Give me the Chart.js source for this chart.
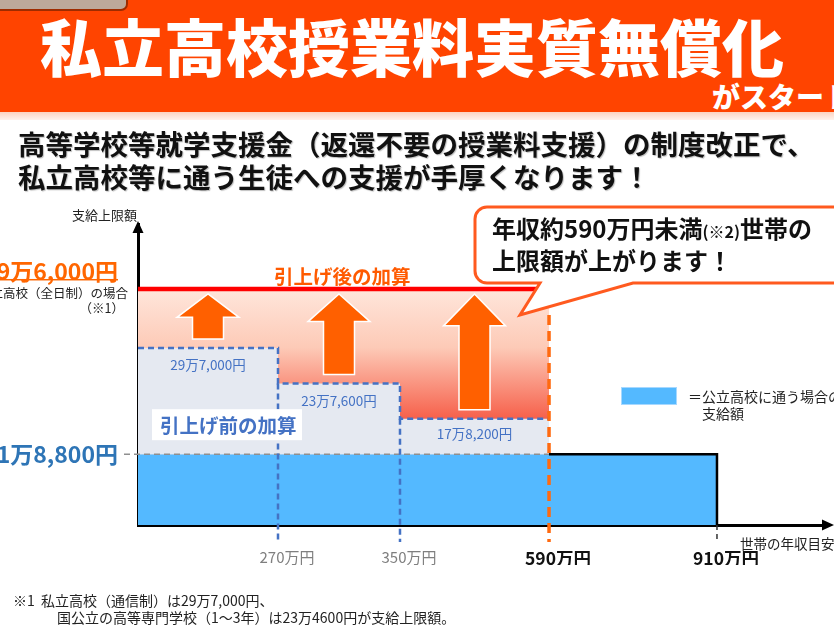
<!DOCTYPE html>
<html lang="ja">
<head>
<meta charset="utf-8">
<script src="https://cdn.jsdelivr.net/npm/chart.js@4.4.1/dist/chart.umd.min.js"></script>
<style>
  html, body { margin:0; padding:0; background:#fff; }
  #page { position:relative; width:834px; height:643px; overflow:hidden; font-family:"Noto Sans CJK JP","Noto Sans",sans-serif; }
  #page div.t { position:absolute; white-space:nowrap; }
  #banner { position:absolute; left:0; top:0; width:834px; height:112px; background:#FF4400; }
  #strip { position:absolute; left:0; top:112px; width:834px; height:8px; background:linear-gradient(#FCD3C2,#FFF3EE); }
  #tab { position:absolute; left:-12px; top:-12px; width:136px; height:19px; background:#BDA99A; border:2px solid #9E2C00; border-radius:7px; }
  #title { left:40px; top:14px; font-size:62px; line-height:62px; font-weight:900; color:#fff; }
  #start { left:712px; top:82px; font-size:28px; line-height:28px; font-weight:900; color:#fff; }
  .sub { left:18px; font-size:27.5px; line-height:28px; font-weight:700; color:#111; text-shadow:1px 1px 1px rgba(0,0,0,0.25); }
  .small { font-size:13px; line-height:14px; color:#222; }
  .note { font-size:14px; line-height:16px; color:#222; }
  .call { left:492px; font-size:24px; line-height:26px; font-weight:700; color:#111; }
  #wrap { position:absolute; left:0; top:0; width:834px; height:643px; }
</style>
</head>
<body>
<div id="page">
  <div id="wrap"><canvas id="c"></canvas></div>
  <div id="banner"></div>
  <div id="tab"></div>
  <div id="strip"></div>
  <div class="t" id="title">私立高校授業料実質無償化</div>
  <div class="t" id="start">がスタート</div>
  <div class="t sub" style="top:129px">高等学校等就学支援金（返還不要の授業料支援）の制度改正で、</div>
  <div class="t sub" style="top:162px">私立高校等に通う生徒への支援が手厚くなります！</div>
  <div class="t small" style="left:72px; top:208px;">支給上限額</div>
  <div class="t small" style="right:706px; top:286px; font-size:12.5px;">私立高校（全日制）の場合</div>
  <div class="t small" style="right:710px; top:301px; font-size:12.5px;">（※1）</div>
  <div class="t small" style="left:740px; top:536px; font-size:13.5px;">世帯の年収目安</div>
  <div class="t call" style="top:215px">年収約590万円未満<span style="font-size:16px">(※2)</span>世帯の</div>
  <div class="t call" style="top:247px">上限額が上がります！</div>
  <div class="t small" style="left:688px; top:388px; font-size:14px; line-height:16px;">＝公立高校に通う場合の</div>
  <div class="t small" style="left:702px; top:405px; font-size:14px; line-height:16px;">支給額</div>
  <div class="t note" style="left:13px; top:592px;">※1&nbsp; 私立高校（通信制）は29万7,000円、</div>
  <div class="t note" style="left:57px; top:609px;">国公立の高等専門学校（1〜3年）は23万4600円が支給上限額。</div>
</div>
<script>
// ---- data (income in 万円, amounts in 円) ----
const incomeBreaks = [0, 270, 350, 590, 910];
const tickIncomes  = [270, 350, 590, 910];
const priorCaps    = [297000, 237600, 178200];   // 引上げ前 (per bracket)
const newCap       = 396000;                     // 引上げ後 (below 590万円)
const publicCap    = 118800;                     // 公立高校相当額 (below 910万円)
const xAxisMax     = 1000;

// ---- layout of the non-uniform income axis (positions, not data) ----
const xAxisFractions = [0, 0.2029, 0.3797, 0.5957, 0.8391, 1];
const xKnots = incomeBreaks.concat([xAxisMax]);

const FONT = '"Noto Sans CJK JP","Noto Sans",sans-serif';
const BLUE = '#54B9FF', BOXFILL = '#E5E9F1', BOXLINE = '#4472C4';

function formatYen(v) {
  const man = Math.floor(v / 10000), rest = v % 10000;
  return man + '万' + rest.toLocaleString('en-US') + '円';
}

class PiecewiseScale extends Chart.LinearScale {
  _dec(value) {
    const k = xKnots, f = xAxisFractions;
    if (value <= k[0]) return f[0];
    for (let i = 1; i < k.length; i++) {
      if (value <= k[i]) return f[i-1] + (value - k[i-1]) / (k[i] - k[i-1]) * (f[i] - f[i-1]);
    }
    return f[f.length - 1];
  }
  getPixelForValue(value) {
    if (value === null || value === undefined || isNaN(value)) return NaN;
    return this.getPixelForDecimal(this._dec(value));
  }
  getValueForPixel(pixel) {
    const d = this.getDecimalForPixel(pixel), k = xKnots, f = xAxisFractions;
    for (let i = 1; i < k.length; i++) {
      if (d <= f[i]) return k[i-1] + (d - f[i-1]) / (f[i] - f[i-1]) * (k[i] - k[i-1]);
    }
    return k[k.length - 1];
  }
}
PiecewiseScale.id = 'piecewise';
PiecewiseScale.defaults = Chart.LinearScale.defaults;
Chart.register(PiecewiseScale);

function txt(c, s, x, y, font, color, align) {
  c.save(); c.font = font; c.fillStyle = color; c.textAlign = align || 'left'; c.textBaseline = 'middle';
  c.fillText(s, x, y); c.restore();
}
function dashLine(c, x1, y1, x2, y2, color, w, dash) {
  c.save(); c.strokeStyle = color; c.lineWidth = w; c.setLineDash(dash);
  c.beginPath(); c.moveTo(x1, y1); c.lineTo(x2, y2); c.stroke(); c.restore();
}

const decor = {
  id: 'decor',
  afterDatasetsDraw(chart) {
    const c = chart.ctx, xs = chart.scales.x, ys = chart.scales.y;
    const X = v => xs.getPixelForValue(v), Y = v => ys.getPixelForValue(v);
    const axisY = ys.getPixelForValue(0);
    // gray dashed reference line at public amount
    dashLine(c, 124, Y(publicCap), X(incomeBreaks[3]), Y(publicCap), '#8F8F8F', 1.5, [6, 4]);
    // blue dashed verticals at 270 / 350
    for (let i = 1; i <= 2; i++) {
      dashLine(c, X(incomeBreaks[i]), Y(priorCaps[i]), X(incomeBreaks[i]), axisY + 17, BOXLINE, 2.5, [6, 4]);
    }
    // 910 small dash below axis
    dashLine(c, X(incomeBreaks[4]), axisY, X(incomeBreaks[4]), axisY + 17, '#333', 1.5, [5, 4]);
    // arrows
    for (let i = 0; i < 3; i++) {
      const xc = X((incomeBreaks[i] + incomeBreaks[i+1]) / 2);
      const yb = Y(priorCaps[i]) - 9, yt = Y(newCap) + 5;
      const len = yb - yt, hh = 18 + 0.12 * len, hw = 31, sw = 15.5;
      c.save();
      c.beginPath();
      c.moveTo(xc, yt); c.lineTo(xc + hw, yt + hh); c.lineTo(xc + sw, yt + hh); c.lineTo(xc + sw, yb);
      c.lineTo(xc - sw, yb); c.lineTo(xc - sw, yt + hh); c.lineTo(xc - hw, yt + hh); c.closePath();
      c.fillStyle = '#FF6000'; c.fill();
      c.strokeStyle = '#fff'; c.lineWidth = 1.5; c.stroke();
      c.restore();
      // bracket value label
      txt(c, formatYen(priorCaps[i]), xc, Y(priorCaps[i]) + (i === 2 ? 15 : 17), '13.5px ' + FONT, BOXLINE, 'center');
    }
    // 引上げ後の加算
    txt(c, '引上げ後の加算', X(incomeBreaks[1]) - 4, Y(newCap) - 12, 'bold 19.5px ' + FONT, '#FF5A00', 'left');
    // 引上げ前の加算 box
    const bx = X(0) + 14, by = Y(publicCap) - 45;
    c.save(); c.fillStyle = '#fff'; c.fillRect(bx, by, 150, 31); c.restore();
    txt(c, '引上げ前の加算', bx + 8, by + 16, 'bold 19.5px ' + FONT, BOXLINE, 'left');
    // orange dashed at 590
    dashLine(c, X(incomeBreaks[3]), Y(newCap) + 26, X(incomeBreaks[3]), axisY + 17, '#FF6A10', 3.5, [10, 6]);
  },
  afterDraw(chart) {
    const c = chart.ctx, xs = chart.scales.x, ys = chart.scales.y;
    const Y = v => ys.getPixelForValue(v);
    const ax = xs.left, axisY = ys.getPixelForValue(0);
    // axis arrowheads
    c.save(); c.fillStyle = '#000';
    c.beginPath(); c.moveTo(ax, ys.top - 3); c.lineTo(ax - 5.5, ys.top + 9); c.lineTo(ax + 5.5, ys.top + 9); c.closePath(); c.fill();
    c.beginPath(); c.moveTo(834, axisY); c.lineTo(822, axisY - 5.5); c.lineTo(822, axisY + 5.5); c.closePath(); c.fill();
    c.restore();
    // left value labels
    const s1 = formatYen(newCap);
    c.save(); c.font = 'bold 23px ' + FONT; const w1 = c.measureText(s1).width; c.restore();
    txt(c, s1, 118, Y(newCap) - 18, 'bold 23px ' + FONT, '#FF6600', 'right');
    c.save(); c.fillStyle = '#FF6600'; c.fillRect(118 - w1, Y(newCap) - 10, w1, 1.5); c.restore();
    txt(c, formatYen(publicCap), 118, Y(publicCap), 'bold 23px ' + FONT, '#2E75B6', 'right');
    // legend swatch
    c.save(); c.fillStyle = BLUE; c.fillRect(621, 387, 56, 18);
    c.strokeStyle = '#A6D8FF'; c.lineWidth = 1; c.strokeRect(621.5, 387.5, 55, 17); c.restore();
    // callout
    const L = 475, T = 207, B = 283, R = 870, r = 12;
    c.save();
    c.beginPath();
    c.moveTo(L + r, T); c.lineTo(R, T); c.lineTo(R, B); c.lineTo(633, B); c.lineTo(520, 315); c.lineTo(540, B);
    c.lineTo(L + r, B); c.arcTo(L, B, L, B - r, r); c.lineTo(L, T + r); c.arcTo(L, T, L + r, T, r); c.closePath();
    c.fillStyle = '#fff'; c.fill();
    c.strokeStyle = '#FF5A1F'; c.lineWidth = 3; c.lineJoin = 'miter'; c.stroke();
    c.restore();
  }
};

const ctx = document.getElementById('c');
new Chart(ctx, {
  type: 'line',
  data: {
    datasets: [
      { // gradient band (引上げ後の加算)
        data: [{x: incomeBreaks[0], y: newCap}, {x: incomeBreaks[3], y: newCap}],
        borderWidth: 0, pointRadius: 0, order: 5,
        fill: {value: publicCap},
        backgroundColor: (cx) => {
          const ch = cx.chart; if (!ch.chartArea) return 'rgba(0,0,0,0)';
          const y = ch.scales.y;
          const g = ch.ctx.createLinearGradient(0, y.getPixelForValue(newCap), 0, y.getPixelForValue(priorCaps[2]));
          g.addColorStop(0, '#FFE6DB'); g.addColorStop(0.45, '#FDCAB7'); g.addColorStop(1, '#F6604B');
          return g;
        }
      },
      { // public base amount
        data: [{x: incomeBreaks[0], y: publicCap}, {x: incomeBreaks[4], y: publicCap}],
        borderWidth: 0, pointRadius: 0, order: 4, fill: 'origin', backgroundColor: BLUE
      },
      { // 引上げ前 boxes
        data: priorCaps.map((v, i) => ({x: incomeBreaks[i], y: v})).concat([{x: incomeBreaks[3], y: priorCaps[2]}]),
        stepped: 'before', borderColor: BOXLINE, borderWidth: 2.5, borderDash: [6, 4],
        pointRadius: 0, order: 3, fill: {value: publicCap}, backgroundColor: BOXFILL
      },
      { // 引上げ後 line
        data: [{x: incomeBreaks[0], y: newCap}, {x: incomeBreaks[3], y: newCap}],
        borderColor: '#FF0000', borderWidth: 4.5, pointRadius: 0, order: 2, fill: false
      },
      { // outline of 590-910 public part
        data: [{x: incomeBreaks[3], y: publicCap}, {x: incomeBreaks[4], y: publicCap}, {x: incomeBreaks[4], y: 0}],
        borderColor: '#000', borderWidth: 2.5, pointRadius: 0, order: 1, fill: false, borderJoinStyle: 'miter'
      }
    ]
  },
  options: {
    responsive: true, maintainAspectRatio: false, animation: false,
    layout: { padding: { left: 138, right: 6, top: 224, bottom: 78 } },
    plugins: { legend: { display: false }, tooltip: { enabled: false } },
    scales: {
      x: {
        type: 'piecewise', min: 0, max: xAxisMax, bounds: 'data', z: 1,
        afterBuildTicks: (s) => { s.ticks = tickIncomes.map(v => ({ value: v })); },
        afterFit: (s) => { s.height = 40; },
        grid: { display: true, drawOnChartArea: false, drawTicks: false },
        border: { display: true, color: '#000', width: 3 },
        ticks: {
          autoSkip: false, maxRotation: 0, padding: 23, labelOffset: 9,
          callback: (v) => v + '万円',
          color: (cx) => cx.tick && cx.tick.value >= incomeBreaks[3] ? '#111' : '#7F7F7F',
          font: (cx) => cx.tick && cx.tick.value >= incomeBreaks[3]
            ? { family: FONT, size: 17.5, weight: 'bold' } : { family: FONT, size: 15 }
        }
      },
      y: {
        type: 'linear', min: 0, max: 505000, bounds: 'data', z: 1,
        afterFit: (s) => { s.width = 0; },
        grid: { display: true, drawOnChartArea: false, drawTicks: false },
        border: { display: true, color: '#000', width: 3 },
        ticks: { display: false }
      }
    }
  },
  plugins: [decor]
});
</script>
</body>
</html>
